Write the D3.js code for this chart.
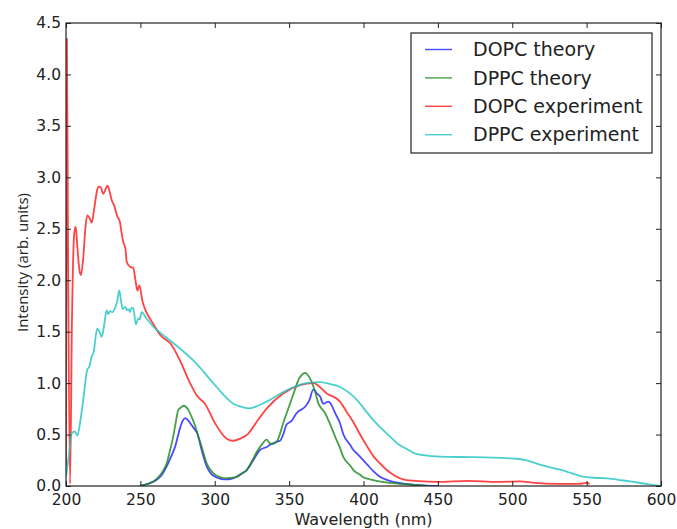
<!DOCTYPE html>
<html>
<head>
<meta charset="utf-8">
<script src="https://cdn.jsdelivr.net/npm/d3@7"></script>
<style>
  body { margin: 0; background: #fff; }
  .axis text { font-family: "DejaVu Sans", sans-serif; font-size: 15.5px; fill: #222; }
  .axis path, .axis line { stroke: #222; }
</style>
</head>
<body>
<div id="chart"></div>
<script>
// wavelength (nm), intensity (arb. units)
let dopcTheory = [[249.7,0.0],[255,0.02],[261,0.06],[264.5,0.11],[267.7,0.19],[270.5,0.28],[273.3,0.38],[276.6,0.56],[278.3,0.63],[280,0.66],[282,0.64],[284.5,0.59],[286.5,0.55],[288.3,0.51],[291.2,0.35],[294.6,0.19],[297.5,0.12],[300.2,0.09],[304,0.07],[308,0.065],[311,0.07],[314.8,0.09],[318,0.12],[321.5,0.155],[325.9,0.25],[330.4,0.35],[335,0.38],[337.1,0.40],[341.6,0.43],[343.9,0.44],[346,0.5],[348.4,0.6],[351.5,0.63],[355.1,0.71],[360.7,0.77],[363.5,0.83],[366.3,0.94],[368.5,0.9],[370.8,0.87],[373,0.80],[376.4,0.82],[378,0.80],[380.9,0.71],[384.2,0.61],[386.5,0.50],[391,0.40],[393.2,0.35],[396,0.31],[399.9,0.25],[403,0.2],[406.6,0.145],[411,0.09],[415.6,0.06],[420,0.04],[429,0.02],[440,0.005],[450,0.0]];

let dppcTheory = [[249.7,0.0],[255,0.02],[261,0.07],[264.5,0.13],[267.7,0.22],[270,0.35],[272.1,0.48],[273.8,0.62],[275.5,0.74],[277,0.76],[278.9,0.78],[280.5,0.77],[282.2,0.74],[284.5,0.67],[286.7,0.59],[289,0.48],[291.2,0.38],[294.6,0.22],[297.5,0.15],[300.2,0.11],[304,0.085],[308,0.075],[311,0.08],[314.8,0.09],[318,0.12],[321.5,0.155],[325,0.24],[328.2,0.33],[331.5,0.40],[334.9,0.45],[337.1,0.415],[339.4,0.41],[341.6,0.43],[342.7,0.46],[346,0.61],[350.6,0.80],[353.5,0.92],[356.2,1.03],[358.5,1.08],[360.7,1.10],[363,1.07],[365.2,1.01],[367.4,0.92],[369.7,0.80],[372,0.75],[374.1,0.71],[377,0.62],[380.9,0.48],[384.2,0.37],[386.5,0.28],[391,0.20],[393.2,0.155],[397.7,0.11],[399.9,0.085],[404.4,0.065],[408.8,0.05],[417.9,0.03],[430,0.015],[445,0.0]];

let dopcExp = [[200,0.2],[200.6,4.35],[201.3,2.5],[202.7,0.02],[204,1.6],[205.5,2.45],[206.5,2.52],[207.5,2.35],[209,2.1],[210,2.05],[211.5,2.2],[213,2.5],[214.3,2.63],[216,2.6],[217.3,2.56],[219,2.7],[221,2.88],[222,2.91],[223.5,2.9],[225,2.84],[226.5,2.88],[227.8,2.92],[229,2.88],[230.7,2.78],[232.5,2.72],[234.5,2.62],[236,2.58],[237.5,2.45],[238.5,2.37],[240,2.3],[240.8,2.18],[243,2.13],[245.2,2.12],[246.5,2.02],[248,1.9],[249.3,1.95],[251.5,1.79],[254,1.69],[257.6,1.60],[263.2,1.47],[271,1.37],[276.6,1.22],[283.4,1.0],[287.9,0.88],[293.4,0.80],[300.2,0.61],[308,0.46],[312.5,0.44],[317,0.46],[322.6,0.51],[328,0.62],[335,0.755],[346,0.90],[357.3,0.98],[366.3,1.0],[375.3,0.9],[384.2,0.82],[388.7,0.72],[393.2,0.62],[397.7,0.50],[402.2,0.39],[406.6,0.29],[411.1,0.22],[415.6,0.155],[420,0.11],[424.5,0.075],[428,0.06],[435,0.05],[450,0.04],[470,0.05],[490,0.04],[505,0.045],[515,0.03],[530,0.02],[545,0.02],[550,0.03],[552,0.02]];

let dppcExp = [[200,0.09],[202,0.3],[203.8,0.51],[206,0.53],[207.6,0.49],[209.4,0.61],[211.6,0.84],[214.3,1.13],[215.7,1.16],[217.3,1.26],[218.4,1.29],[221,1.53],[222.5,1.5],[224,1.45],[225.5,1.55],[227.4,1.71],[228.3,1.67],[229.6,1.70],[231,1.69],[233,1.73],[234.5,1.8],[235.8,1.90],[237,1.8],[238.1,1.72],[240,1.74],[240.8,1.71],[242,1.72],[243,1.69],[244,1.73],[245.2,1.73],[247,1.57],[248.6,1.63],[249.5,1.62],[250.9,1.69],[254,1.63],[258.7,1.55],[265,1.47],[272.1,1.39],[285.6,1.22],[299,1.0],[305,0.9],[312.5,0.80],[318,0.77],[323.7,0.755],[329,0.78],[334.9,0.82],[348.4,0.93],[361.8,1.0],[370.8,1.01],[378,0.99],[384,0.965],[390,0.91],[395.4,0.84],[401,0.74],[406.6,0.64],[412,0.56],[417.9,0.48],[423,0.41],[429,0.36],[434,0.32],[440.3,0.30],[451.5,0.285],[473.9,0.28],[496.3,0.27],[503,0.265],[509.7,0.25],[516,0.22],[523.1,0.19],[536.6,0.14],[543,0.11],[547.8,0.09],[555,0.08],[563.5,0.075],[571,0.06],[579.2,0.045],[590,0.02],[600,0.0]];

let seriesNames = ["DOPC theory", "DPPC theory", "DOPC experiment", "DPPC experiment"];
let seriesColors = ["#2222ff", "#1f8a1f", "#ff1a1a", "#22c4c4"];
let xTicks = [200, 250, 300, 350, 400, 450, 500, 550, 600];
let yTicks = [0, 0.5, 1, 1.5, 2, 2.5, 3, 3.5, 4, 4.5];

let series = [dopcTheory, dppcTheory, dopcExp, dppcExp];

let margin = {top: 23, right: 16, bottom: 43, left: 66},
  width = 677 - margin.left - margin.right,
  height = 529 - margin.top - margin.bottom;

let svg = d3.select("#chart").append("svg")
  .attr("width", width + margin.left + margin.right)
  .attr("height", height + margin.top + margin.bottom)
  .append("g")
  .attr("transform", "translate(" + margin.left + "," + margin.top + ")");

let x = d3.scaleLinear().domain([200, 600]).range([0, width]);
let y = d3.scaleLinear().domain([0, 4.5]).range([height, 0]);

let line = d3.line()
  .curve(d3.curveMonotoneX)
  .x(function (d) { return x(d[0]); })
  .y(function (d) { return y(d[1]); });

// clip so lines stay inside the frame
svg.append("clipPath").attr("id", "clip")
  .append("rect").attr("width", width).attr("height", height);

let plot = svg.append("g").attr("clip-path", "url(#clip)");
series.forEach(function (s, i) {
  plot.append("path")
    .datum(s)
    .attr("d", line)
    .attr("fill", "none")
    .attr("stroke", seriesColors[i])
    .attr("stroke-opacity", 0.82)
    .attr("stroke-width", 1.8)
    .attr("stroke-linejoin", "round");
});

// axes, ticks inside on all four sides
svg.append("g").attr("class", "axis")
  .attr("transform", "translate(0," + height + ")")
  .call(d3.axisBottom(x).tickValues(xTicks).tickSizeInner(-5).tickSizeOuter(0).tickPadding(8).tickFormat(d3.format("d")));

svg.append("g").attr("class", "axis")
  .call(d3.axisTop(x).tickValues(xTicks).tickSizeInner(-5).tickSizeOuter(0).tickFormat(""));

svg.append("g").attr("class", "axis")
  .call(d3.axisLeft(y).tickValues(yTicks).tickSizeInner(-5).tickSizeOuter(0).tickPadding(5).tickFormat(d3.format(".1f")));

svg.append("g").attr("class", "axis")
  .attr("transform", "translate(" + width + ",0)")
  .call(d3.axisRight(y).tickValues(yTicks).tickSizeInner(-5).tickSizeOuter(0).tickFormat(""));

svg.selectAll(".axis .domain").remove();
svg.append("rect")
  .attr("width", width).attr("height", height)
  .attr("fill", "none").attr("stroke", "#222").attr("stroke-width", 1.2);

svg.append("text")
  .attr("x", width / 2).attr("y", height + 39)
  .attr("text-anchor", "middle")
  .style("font-family", "DejaVu Sans, sans-serif").style("font-size", "16px").style("fill", "#222")
  .text("Wavelength (nm)");

svg.append("text")
  .attr("transform", "translate(-38," + (height / 2 + 8) + ") rotate(-90)")
  .attr("text-anchor", "middle")
  .style("font-family", "Open Sans, sans-serif").style("font-size", "15px").style("fill", "#222")
  .text("Intensity (arb. units)");

// legend
let legend = svg.append("g").attr("transform", "translate(" + (411 - margin.left) + "," + (33 - margin.top) + ")");
legend.append("rect")
  .attr("width", 241).attr("height", 120)
  .attr("fill", "#fff").attr("stroke", "#222").attr("stroke-width", 1.2);

seriesNames.forEach(function (name, i) {
  let row = legend.append("g").attr("transform", "translate(0," + (16.5 + i * 28.4) + ")");
  row.append("line")
    .attr("x1", 14).attr("x2", 41)
    .attr("stroke", seriesColors[i]).attr("stroke-opacity", 0.82).attr("stroke-width", 1.4);
  row.append("text")
    .attr("x", 62).attr("dy", "0.35em")
    .style("font-family", "DejaVu Sans, sans-serif").style("font-size", "19px").style("fill", "#222")
    .text(name);
});
</script>
</body>
</html>
